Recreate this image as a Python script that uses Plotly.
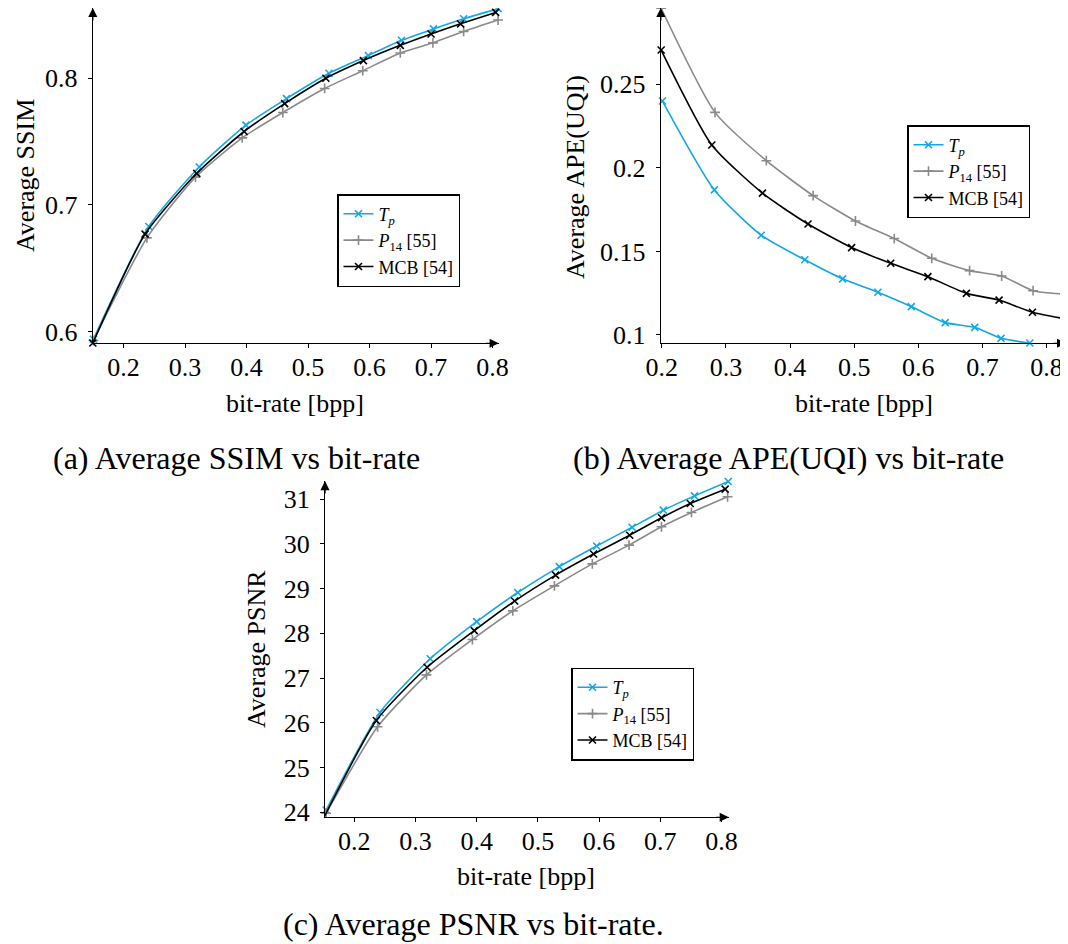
import plotly.graph_objects as go

# ---------------- data ----------------
# (a) Average SSIM vs bit-rate
ssim_tp_x = [0.151, 0.241, 0.323, 0.399, 0.465, 0.534, 0.598, 0.652, 0.704, 0.753, 0.809]
ssim_tp_y = [0.594, 0.683, 0.730, 0.763, 0.784, 0.804, 0.818, 0.830, 0.839, 0.847, 0.855]
ssim_p14_x = [0.151, 0.238, 0.317, 0.393, 0.459, 0.527, 0.589, 0.650, 0.703, 0.753, 0.809]
ssim_p14_y = [0.593, 0.674, 0.722, 0.753, 0.773, 0.792, 0.806, 0.820, 0.828, 0.837, 0.846]
ssim_mcb_x = [0.150, 0.235, 0.319, 0.396, 0.462, 0.529, 0.590, 0.650, 0.700, 0.748, 0.805]
ssim_mcb_y = [0.591, 0.677, 0.725, 0.758, 0.780, 0.800, 0.814, 0.826, 0.835, 0.843, 0.852]

# (b) Average APE(UQI) vs bit-rate
ape_tp_x = [0.201, 0.282, 0.355, 0.423, 0.482, 0.537, 0.589, 0.642, 0.688, 0.729, 0.774]
ape_tp_y = [0.240, 0.1868, 0.1597, 0.1450, 0.1336, 0.1256, 0.1170, 0.1074, 0.1046, 0.0980, 0.0952]
ape_p14_x = [0.199, 0.283, 0.363, 0.436, 0.502, 0.5625, 0.621, 0.680, 0.730, 0.779, 0.828]
ape_p14_y = [0.2955, 0.2332, 0.2043, 0.1834, 0.1682, 0.1577, 0.1459, 0.1385, 0.1353, 0.1265, 0.1245]
ape_mcb_x = [0.199, 0.278, 0.357, 0.428, 0.496, 0.557, 0.615, 0.675, 0.726, 0.778, 0.830]
ape_mcb_y = [0.2705, 0.2137, 0.1849, 0.1664, 0.1523, 0.1429, 0.1349, 0.1249, 0.1209, 0.1136, 0.1096]

# (c) Average PSNR vs bit-rate
psnr_tp_x = [0.154, 0.242, 0.324, 0.400, 0.467, 0.535, 0.596, 0.654, 0.705, 0.756, 0.811]
psnr_tp_y = [24.05, 26.23, 27.43, 28.26, 28.91, 29.49, 29.95, 30.37, 30.75, 31.07, 31.39]
psnr_p14_x = [0.154, 0.238, 0.318, 0.393, 0.459, 0.527, 0.589, 0.649, 0.702, 0.751, 0.810]
psnr_p14_y = [23.98, 25.91, 27.07, 27.86, 28.50, 29.06, 29.55, 29.97, 30.38, 30.70, 31.05]
psnr_mcb_x = [0.151, 0.236, 0.319, 0.396, 0.462, 0.529, 0.591, 0.650, 0.702, 0.749, 0.806]
psnr_mcb_y = [23.90, 26.05, 27.24, 28.06, 28.72, 29.30, 29.77, 30.19, 30.58, 30.90, 31.22]

series_names = ["<i>T</i><sub><i>p</i></sub>", "<i>P</i><sub>14</sub> [55]", "MCB [54]"]
x_ticks = [0.2, 0.3, 0.4, 0.5, 0.6, 0.7, 0.8]
x_tick_text = ["0.2", "0.3", "0.4", "0.5", "0.6", "0.7", "0.8"]
ssim_ticks = [0.6, 0.7, 0.8]
ssim_tick_text = ["0.6", "0.7", "0.8"]
ape_ticks = [0.1, 0.15, 0.2, 0.25]
ape_tick_text = ["0.1", "0.15", "0.2", "0.25"]
psnr_ticks = [24, 25, 26, 27, 28, 29, 30, 31]
psnr_tick_text = ["24", "25", "26", "27", "28", "29", "30", "31"]

x_title = "bit-rate [bpp]"
y_titles = ["Average SSIM", "Average APE(UQI)", "Average PSNR"]
captions = ["(a) Average SSIM vs bit-rate", "(b) Average APE(UQI) vs bit-rate",
            "(c) Average PSNR vs bit-rate."]

# ---------------- style ----------------
# The page body has an 8px margin, so the figure is made 8px smaller and all
# window-pixel positions below are shifted by that offset.
OFF = 8
WIN_W, WIN_H = 1068, 944
W, H = WIN_W - OFF, WIN_H - OFF
FONT = "Liberation Serif"
C_TP = "#12A8E6"
C_P14 = "#8A8A8A"
C_MCB = "#000000"
colors = [C_TP, C_P14, C_MCB]
symbols = ["x-thin", "cross-thin", "x-thin"]


def px_x(v):
    return min(max((v - OFF) / W, 0.0), 1.0)


def px_y(v):
    return min(max(1 - (v - OFF) / H, 0.0), 1.0)


# panel geometry in window pixels: (left, right, top, bottom), axis ranges
panels = [
    dict(dom=(92.8, 498.7, 8.0, 343.3), xr=(0.150, 0.810), yr=(0.5908, 0.8555),
         yt=(ssim_ticks, ssim_tick_text),
         data=[(ssim_tp_x, ssim_tp_y), (ssim_p14_x, ssim_p14_y), (ssim_mcb_x, ssim_mcb_y)],
         legend=(337, 194), ytitle=(25, 176), xtitle=(295, 403), cap=(236, 458)),
    dict(dom=(660.8, 1066.1, 8.0, 343.3), xr=(0.19844, 0.8305), yr=(0.09503, 0.29566),
         yt=(ape_ticks, ape_tick_text),
         data=[(ape_tp_x, ape_tp_y), (ape_p14_x, ape_p14_y), (ape_mcb_x, ape_mcb_y)],
         legend=(907, 125), ytitle=(575, 177), xtitle=(863.5, 403), cap=(788, 458)),
    dict(dom=(325.0, 728.8, 481.1, 817.3), xr=(0.1521, 0.812), yr=(23.888, 31.40),
         yt=(psnr_ticks, psnr_tick_text),
         data=[(psnr_tp_x, psnr_tp_y), (psnr_p14_x, psnr_p14_y), (psnr_mcb_x, psnr_mcb_y)],
         legend=(571, 667.5), ytitle=(256, 649), xtitle=(525.5, 876), cap=(473, 924)),
]

fig = go.Figure()
annotations = []
layout = dict(
    width=W, height=H, margin=dict(l=0, r=0, t=0, b=0, autoexpand=False),
    paper_bgcolor="white", plot_bgcolor="white",
    font=dict(family=FONT, size=26, color="black"),
    showlegend=True,
)

for i, p in enumerate(panels):
    k = "" if i == 0 else str(i + 1)
    xa, ya = "x" + k, "y" + k
    legname = "legend" if i == 0 else "legend" + str(i + 1)
    l, r, t, b = p["dom"]
    for j, (xs, ys) in enumerate(p["data"]):
        fig.add_trace(go.Scatter(
            x=xs, y=ys, mode="lines+markers", name=series_names[j],
            xaxis=xa, yaxis=ya, legend=legname, cliponaxis=False,
            line=dict(color=colors[j], width=1.6, shape="spline", smoothing=0.6),
            marker=dict(symbol=symbols[j], size=7, color=colors[j],
                        line=dict(color=colors[j], width=1.6)),
        ))
    layout["xaxis" + k] = dict(
        domain=[px_x(l), px_x(r)], range=list(p["xr"]), anchor=ya, automargin=False,
        tickmode="array", tickvals=x_ticks, ticktext=x_tick_text,
        ticks="outside", ticklen=4, tickwidth=1.3, tickcolor="black",
        showline=True, linecolor="black", linewidth=1.3,
        showgrid=False, zeroline=False, ticklabelstandoff=-4,
        tickfont=dict(family=FONT, size=26, color="black"),
    )
    layout["yaxis" + k] = dict(
        domain=[px_y(b), px_y(t)], range=list(p["yr"]), anchor=xa, automargin=False,
        tickmode="array", tickvals=p["yt"][0], ticktext=p["yt"][1],
        ticks="outside", ticklen=4, tickwidth=1.3, tickcolor="black",
        showline=True, linecolor="black", linewidth=1.3,
        showgrid=False, zeroline=False, ticklabelstandoff=5,
        tickfont=dict(family=FONT, size=26, color="black"),
    )
    layout[legname] = dict(
        x=px_x(p["legend"][0]), y=px_y(p["legend"][1]), xanchor="left", yanchor="top",
        bgcolor="white", bordercolor="black", borderwidth=1.5,
        font=dict(family=FONT, size=18, color="black"),
        tracegroupgap=0, itemwidth=30,
    )
    # axis arrows
    annotations.append(dict(xref=xa + " domain", yref=ya + " domain", x=1, y=0,
                            axref="pixel", ayref="pixel", ax=-14, ay=0, text="",
                            showarrow=True, arrowhead=2, arrowsize=1.4, arrowwidth=1.3,
                            arrowcolor="black"))
    annotations.append(dict(xref=xa + " domain", yref=ya + " domain", x=0, y=1,
                            axref="pixel", ayref="pixel", ax=0, ay=14, text="",
                            showarrow=True, arrowhead=2, arrowsize=1.4, arrowwidth=1.3,
                            arrowcolor="black"))
    # axis titles
    annotations.append(dict(xref="paper", yref="paper", x=px_x(p["xtitle"][0]),
                            y=px_y(p["xtitle"][1]), text=x_title, showarrow=False,
                            xanchor="center", yanchor="middle",
                            font=dict(family=FONT, size=26, color="black")))
    annotations.append(dict(xref="paper", yref="paper", x=px_x(p["ytitle"][0]),
                            y=px_y(p["ytitle"][1]), text=y_titles[i], showarrow=False,
                            textangle=-90, xanchor="center", yanchor="middle",
                            font=dict(family=FONT, size=26, color="black")))
    # caption
    annotations.append(dict(xref="paper", yref="paper", x=px_x(p["cap"][0]),
                            y=px_y(p["cap"][1]), text=captions[i], showarrow=False,
                            xanchor="center", yanchor="middle",
                            font=dict(family=FONT, size=32, color="black")))

layout["annotations"] = annotations
fig.update_layout(**layout)
fig.write_html("out.html")
